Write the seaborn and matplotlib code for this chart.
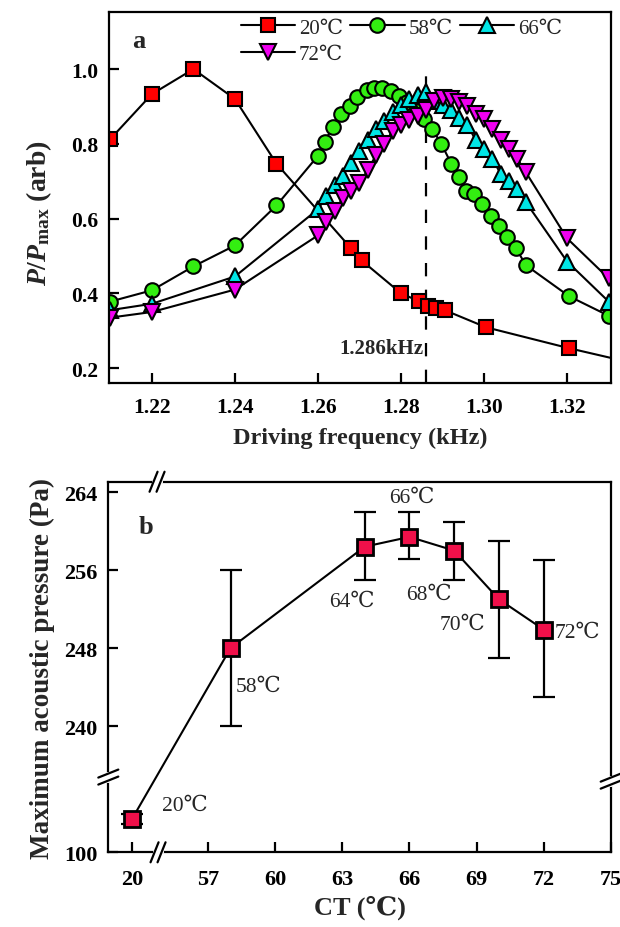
#!/usr/bin/env python3
"""Resonance curves (a) and peak acoustic pressure vs CT (b)."""

import matplotlib
matplotlib.use("Agg")
import matplotlib.pyplot as plt
import numpy as np
import seaborn as sns

# ---- panel a: normalised power vs driving frequency (kHz) ----
freq_20 = [1.21, 1.22, 1.23, 1.24, 1.25, 1.268, 1.2705, 1.280, 1.2843, 1.2865, 1.2885,
           1.2905, 1.3005, 1.3205, 1.345]
pow_20 = [0.813, 0.933, 1.0, 0.92, 0.747, 0.52, 0.488, 0.40, 0.379, 0.365, 0.36,
          0.355, 0.309, 0.253, 0.19]

freq_58 = [1.21, 1.22, 1.23, 1.24, 1.25, 1.26, 1.2616, 1.2635, 1.2656, 1.2676, 1.2695,
           1.2717, 1.2736, 1.2755, 1.2777, 1.2796, 1.2815, 1.2838, 1.2856, 1.2875,
           1.2897, 1.2921, 1.294, 1.2957, 1.2976, 1.2995, 1.3017, 1.3036, 1.3055,
           1.3077, 1.3101, 1.3205, 1.33]
pow_58 = [0.378, 0.408, 0.472, 0.528, 0.635, 0.768, 0.805, 0.845, 0.88, 0.901, 0.925,
          0.945, 0.95, 0.95, 0.941, 0.928, 0.912, 0.888, 0.866, 0.84,
          0.80, 0.747, 0.712, 0.675, 0.667, 0.64, 0.608, 0.581, 0.552,
          0.52, 0.475, 0.392, 0.34]

freq_66 = [1.21, 1.22, 1.24, 1.26, 1.262, 1.264, 1.266, 1.268, 1.270, 1.272, 1.274,
           1.276, 1.278, 1.280, 1.282, 1.284, 1.286, 1.288, 1.290, 1.292, 1.294,
           1.296, 1.298, 1.300, 1.302, 1.304, 1.306, 1.308, 1.310, 1.320, 1.330]
pow_66 = [0.355, 0.372, 0.445, 0.625, 0.66, 0.69, 0.715, 0.75, 0.78, 0.81, 0.84,
          0.862, 0.885, 0.905, 0.92, 0.93, 0.94, 0.915, 0.905, 0.89, 0.87,
          0.85, 0.81, 0.785, 0.76, 0.72, 0.70, 0.68, 0.645, 0.485, 0.378]

freq_72 = [1.21, 1.22, 1.24, 1.26, 1.262, 1.264, 1.266, 1.268, 1.270, 1.272, 1.274,
           1.276, 1.278, 1.280, 1.282, 1.284, 1.286, 1.288, 1.290, 1.292, 1.294,
           1.296, 1.298, 1.300, 1.302, 1.304, 1.306, 1.308, 1.310, 1.320, 1.330]
pow_72 = [0.335, 0.35, 0.41, 0.555, 0.59, 0.62, 0.655, 0.675, 0.695, 0.73, 0.77,
          0.80, 0.835, 0.85, 0.865, 0.875, 0.89, 0.915, 0.922, 0.92, 0.912,
          0.90, 0.88, 0.866, 0.84, 0.81, 0.785, 0.76, 0.725, 0.547, 0.44]

PEAK_FREQ = 1.286

# ---- panel b: maximum acoustic pressure vs CT ----
ct_values = [20, 58, 64, 66, 68, 70, 72]
p_max = [113, 248.0, 258.4, 259.4, 258.0, 253.0, 249.9]
p_err_low = [2, 8.0, 3.4, 2.3, 3.0, 6.0, 6.9]
p_err_high = [2, 8.0, 3.6, 2.6, 2.9, 6.0, 7.1]
ct_ticks = [20, 57, 60, 63, 66, 69, 72, 75]
p_ticks = [100, 240, 248, 256, 264]


def map_ct(v):
    # broken x axis: 20 sits just left of 57
    return v if v >= 57 else 57 - (57 - v) * 0.0924


def map_p(v):
    # broken y axis: the 100 Pa region is squeezed below 240
    return v if v >= 235 else 227.05 + (v - 100) * 0.26


sns.set_theme(style="ticks")
plt.rcParams["font.family"] = ["Liberation Serif", "DejaVu Serif"]
plt.rcParams["mathtext.fontset"] = "custom"
plt.rcParams["mathtext.rm"] = "Liberation Serif:bold"
plt.rcParams["mathtext.it"] = "Liberation Serif:italic:bold"
plt.rcParams["mathtext.bf"] = "Liberation Serif:bold"

fig = plt.figure(figsize=(6.2, 9.28), dpi=100)
ax_a = fig.add_axes([0.176, 0.5862, 0.809, 0.3995])
ax_b = fig.add_axes([0.1747, 0.0805, 0.8103, 0.3993])

line_kw = dict(color="black", linewidth=1.5, markeredgecolor="black",
               markeredgewidth=1.5, estimator=None, sort=False)
series = [
    (freq_20, pow_20, "s", "#ff0000", "20℃", 10),
    (freq_58, pow_58, "o", "#33ee11", "58℃", 10.5),
    (freq_66, pow_66, "^", "#00e6e6", "66℃", 11),
    (freq_72, pow_72, "v", "#f000f0", "72℃", 11),
]
for xs, ys, mk, fc, lab, ms in series:
    sns.lineplot(x=xs, y=ys, ax=ax_a, marker=mk, markerfacecolor=fc,
                 markersize=ms, label=lab, **line_kw)

ax_a.plot([PEAK_FREQ, PEAK_FREQ], [0.16, 1.005], color="black", lw=1.6,
          dashes=(6, 6), zorder=1)
ax_a.text(PEAK_FREQ - 0.0006, 0.255, f"{PEAK_FREQ:.3f}kHz", ha="right", va="center",
          fontsize=15, fontweight="bold")

ax_a.set_xlim(1.2097, 1.3305)
ax_a.set_ylim(0.16, 1.152)
ax_a.set_xticks([1.22, 1.24, 1.26, 1.28, 1.30, 1.32])
ax_a.set_xticklabels([f"{t:.2f}" for t in [1.22, 1.24, 1.26, 1.28, 1.30, 1.32]])
ax_a.set_yticks([0.2, 0.4, 0.6, 0.8, 1.0])
ax_a.set_yticklabels([f"{t:.1f}" for t in [0.2, 0.4, 0.6, 0.8, 1.0]])
ax_a.set_xlabel("Driving frequency (kHz)", fontsize=17.5, fontweight="bold", labelpad=7)
ax_a.set_ylabel(r"$P/P_{\rm max}$ (arb)", fontsize=20, fontweight="bold", labelpad=3)
ax_a.yaxis.set_label_coords(-0.11, 0.46)
ax_a.text(0.045, 0.925, "a", transform=ax_a.transAxes, fontsize=19,
          fontweight="bold", va="center")

# legend fills column-wise, so order handles to read 20/58/66 then 72 by row
handles, labels = ax_a.get_legend_handles_labels()
order = [0, 3, 1, 2]
ax_a.legend([handles[i] for i in order], [labels[i] for i in order],
            loc="upper left", bbox_to_anchor=(0.262, 0.985), ncol=3,
            frameon=False, fontsize=15, handlelength=2.6, handletextpad=0.2,
            columnspacing=0.35, labelspacing=0.35, borderaxespad=0, borderpad=0.0)

# ---- panel b ----
xb = [map_ct(v) for v in ct_values]
yb = [map_p(v) for v in p_max]
lo = [map_p(v) - map_p(v - e) for v, e in zip(p_max, p_err_low)]
hi = [map_p(v + e) - map_p(v) for v, e in zip(p_max, p_err_high)]
ax_b.errorbar(xb, yb, yerr=[lo, hi], fmt="none", ecolor="black", elinewidth=1.6,
              capsize=8, capthick=1.6, zorder=2)
sns.lineplot(x=xb, y=yb, ax=ax_b, color="black", linewidth=1.5, marker="s",
             markersize=11.5, markerfacecolor="#f0104a", markeredgecolor="black",
             markeredgewidth=2, estimator=None, sort=False, zorder=3)

label_offsets = [(30, 14, "left"), (5, -38, "left"), (-13, -55, "center"),
                 (2, 40, "center"), (-25, -44, "center"), (-36, -25, "center"),
                 (11, -3, "left")]
for v, x, y, (dx, dy, ha) in zip(ct_values, xb, yb, label_offsets):
    ax_b.annotate(f"{v}℃", (x, y), xytext=(dx, dy), textcoords="offset pixels",
                  ha=ha, va="center", fontsize=15.5)

ax_b.set_xlim(52.53, 75.0)
ax_b.set_ylim(227.05, 265.06)
ax_b.set_xticks([map_ct(v) for v in ct_ticks])
ax_b.set_xticklabels([str(v) for v in ct_ticks])
ax_b.set_yticks([map_p(v) for v in p_ticks])
ax_b.set_yticklabels([str(v) for v in p_ticks])
ax_b.set_xlabel("CT (℃)", fontsize=19, fontweight="bold", labelpad=4)
ax_b.set_ylabel("Maximum acoustic pressure (Pa)", fontsize=19.5, fontweight="bold",
                labelpad=6)
ax_b.text(0.06, 0.88, "b", transform=ax_b.transAxes, fontsize=19,
          fontweight="bold", va="center")

for ax, size in ((ax_a, 15.5), (ax_b, 16)):
    for sp in ax.spines.values():
        sp.set_linewidth(1.6)
        sp.set_color("black")
    ax.tick_params(direction="in", length=7, width=1.6, labelsize=size,
                   colors="black", pad=8)
    for lab in ax.get_xticklabels() + ax.get_yticklabels():
        lab.set_fontweight("bold")
    ax.set_facecolor("white")
ax_a.tick_params(axis="x", pad=10)
ax_b.tick_params(axis="x", pad=12)


def break_mark(ax, fx, fy, vertical_spine):
    # small "//" symbol sitting on a spine, drawn in axes fraction
    bb = ax.get_window_extent()
    w, h = bb.width, bb.height
    gap = 3.5
    if vertical_spine:
        ax.plot([fx, fx], [fy - gap / h, fy + gap / h], color="white", lw=3,
                transform=ax.transAxes, clip_on=False, zorder=5)
        for s in (-gap, gap):
            ax.plot([fx - 10 / w, fx + 10 / w], [fy + (s - 4) / h, fy + (s + 4) / h],
                    color="black", lw=1.6, transform=ax.transAxes, clip_on=False, zorder=6)
    else:
        ax.plot([fx - gap / w, fx + gap / w], [fy, fy], color="white", lw=3,
                transform=ax.transAxes, clip_on=False, zorder=5)
        for s in (-gap, gap):
            ax.plot([fx + (s - 4) / w, fx + (s + 4) / w], [fy - 10 / h, fy + 10 / h],
                    color="black", lw=1.6, transform=ax.transAxes, clip_on=False, zorder=6)


break_mark(ax_b, 0.097, 1.0, False)
break_mark(ax_b, 0.099, 0.0, False)
break_mark(ax_b, 0.0, 0.203, True)
break_mark(ax_b, 1.0, 0.192, True)

fig.savefig("out.png", dpi=100, facecolor="white")
